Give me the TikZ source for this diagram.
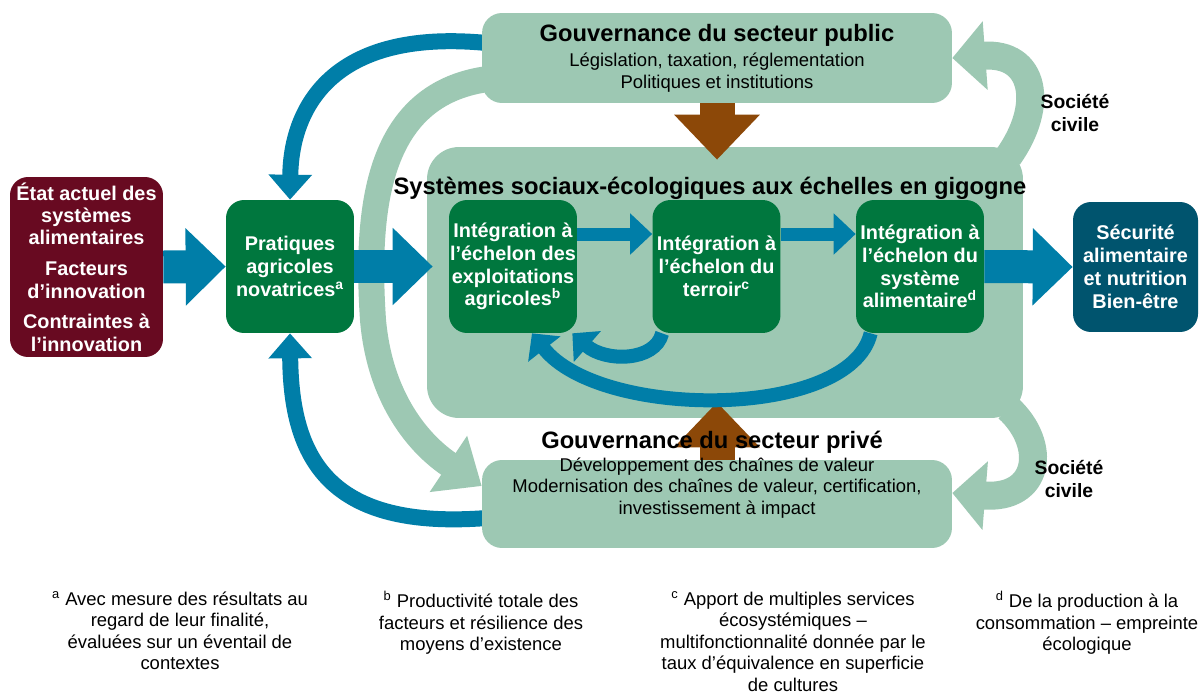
\documentclass[tikz,border=0pt]{standalone}
\usepackage{fontspec}
\setmainfont{Liberation Sans}
\usetikzlibrary{positioning, arrows.meta, calc, backgrounds}

\definecolor{bandgreen}{RGB}{157,200,179}
\definecolor{boxgreen}{RGB}{0,119,62}
\definecolor{flowblue}{RGB}{0,126,168}
\definecolor{wine}{RGB}{104,10,33}
\definecolor{deepteal}{RGB}{0,84,110}
\definecolor{rust}{RGB}{140,72,8}

\newcommand{\bxfont}{\fontsize{11.3}{13}\selectfont\bfseries}
\newcommand{\ttlfont}{\fontsize{13.5}{15}\selectfont\bfseries}
\newcommand{\txtfont}{\fontsize{10.5}{12.2}\selectfont}

\begin{document}
\begin{tikzpicture}[
  x=0.02cm, y=-0.02cm,
  innerbox/.style={fill=boxgreen, rounded corners=0.36cm, text=white, align=center, inner sep=0pt, font=\bxfont, minimum width=2.56cm, minimum height=2.66cm},
  govbox/.style={fill=bandgreen, rounded corners=0.4cm, minimum width=9.4cm, inner sep=0pt},
  blockarrow/.style={flowblue, line width=0.66cm, -{Triangle[length=0.8cm, width=1.5cm]}},
  steparrow/.style={flowblue, line width=0.26cm, -{Triangle[length=0.44cm, width=0.8cm]}},
  innerloop/.style={flowblue, line width=0.28cm, -{Triangle[length=0.4cm, width=0.8cm]}},
  looparrow/.style={flowblue, line width=0.32cm, -{Triangle[length=0.5cm, width=0.84cm]}},
  rustarrow/.style={rust, line width=0.7cm, -{Triangle[length=0.9cm, width=1.66cm]}},
  govband/.style={bandgreen, line width=0.52cm, -{Triangle[length=0.8cm, width=1.3cm]}},
  civilband/.style={bandgreen, line width=0.56cm, -{Triangle[length=0.66cm, width=1.34cm]}},
  civiltext/.style={font=\fontsize{11}{12.8}\selectfont\bfseries, align=center},
  notetext/.style={font=\txtfont, align=center, anchor=north, inner sep=0pt}
]
\useasboundingbox (0,0) rectangle (1200,693);

% governance frames and the nested systems frame
\node[govbox, minimum height=1.8cm, font=\txtfont, align=center] (gpub) at (717,58)
  {{\ttlfont Gouvernance du secteur public}\\[2.5pt]Législation, taxation, réglementation\\Politiques et institutions};
\node[govbox, minimum height=1.76cm] (gpriv) at (717,504) {};
\node[fill=bandgreen, rounded corners=0.64cm, minimum width=11.92cm, minimum height=5.42cm, inner sep=0pt] (ses) at (725,282.5) {};

% boxes
\node[innerbox, fill=wine, minimum width=3.06cm, minimum height=3.6cm, font=\fontsize{11.3}{12.75}\selectfont\bfseries] (etat) at (86.5,267)
  {État actuel des\\systèmes\\alimentaires\\[4.8pt]Facteurs\\d’innovation\\[4.8pt]Contraintes à\\l’innovation};
\node[innerbox] (prat) at (290,266.5) {Pratiques\\agricoles\\novatrices\textsuperscript{a}};
\node[innerbox] (int1) at (513,266.5) {Intégration à\\l’échelon des\\exploitations\\agricoles\textsuperscript{b}};
\node[innerbox] (int2) at (716.5,266.5) {Intégration à\\l’échelon du\\terroir\textsuperscript{c}};
\node[innerbox] (int3) at (920,266.5) {Intégration à\\l’échelon du\\système\\alimentaire\textsuperscript{d}};
\node[innerbox, fill=deepteal, minimum width=2.5cm, minimum height=2.6cm] (secu) at (1135.5,267) {Sécurité\\alimentaire\\et nutrition\\Bien-être};

% bands and loops behind the frames
\begin{scope}[on background layer]
  \fill[white] (0,0) rectangle (1200,693);
  \draw[govband] ([xshift=0.3cm,yshift=-0.4cm]gpub.west) .. controls (380,88) and (365,200) .. (373,320)
    .. controls (380,400) and (420,445) .. ([yshift=0.36cm]gpriv.west);
  \draw[civilband] ([xshift=-0.3cm,yshift=-0.2cm]ses.north east) .. controls (1045,105) and (1035,52) .. (gpub.east);
  \draw[civilband] ([xshift=-0.3cm,yshift=0.2cm]ses.south east) .. controls (1048,445) and (1040,500) .. ([yshift=0.22cm]gpriv.east);
  \draw[looparrow] ([xshift=0.1cm,yshift=0.3cm]gpub.west) .. controls (330,28) and (291,110) .. (prat.north);
  \draw[looparrow] ([xshift=0.1cm,yshift=-0.28cm]gpriv.west) .. controls (330,530) and (291,460) .. (prat.south);
\end{scope}

% governance pressure
\draw[rustarrow] (gpub.south) -- ($(gpub.south |- ses.north)+(0,13)$);
\draw[rustarrow] (gpriv.north) -- ($(gpriv.north |- ses.south)+(0,-16)$);

% titles
\node[font=\ttlfont] (gprivttl) at (712,442) {Gouvernance du secteur privé};
\node[font=\txtfont, align=center] (gprivtxt) at (717,488)
  {Développement des chaînes de valeur\\Modernisation des chaînes de valeur, certification,\\investissement à impact};
\node[font=\ttlfont] (sesttl) at (710,188) {Systèmes sociaux-écologiques aux échelles en gigogne};
\node[civiltext] (civtop) at (1075,113) {Société\\civile};
\node[civiltext] (civbot) at (1069,479) {Société\\civile};

% flows
\draw[blockarrow] (etat.east) -- (prat.west);
\draw[blockarrow, shorten >=0.32cm] (prat.east) -- (prat.east -| int1.west);
\draw[blockarrow] (int3.east) -- (secu.west);
\draw[steparrow] ([yshift=0.65cm]int1.east) -- ([yshift=0.65cm]int2.west);
\draw[steparrow] ([yshift=0.65cm]int2.east) -- ([yshift=0.65cm]int3.west);
\draw[innerloop] ([xshift=0.2cm]int2.south west) .. controls (655,362) and (605,362) .. ([xshift=-0.1cm]int1.south east);
\draw[innerloop] ([xshift=0.3cm]int3.south west) .. controls (850,420) and (600,420) .. ([xshift=0.38cm]int1.south);

% footnotes
\node[notetext] (fna) at (180,591) {\textsuperscript{a} Avec mesure des résultats au\\regard de leur finalité,\\évaluées sur un éventail de\\contextes};
\node[notetext] (fnb) at (481,591) {\textsuperscript{b} Productivité totale des\\facteurs et résilience des\\moyens d’existence};
\node[notetext] (fnc) at (793,591) {\textsuperscript{c} Apport de multiples services\\écosystémiques –\\multifonctionnalité donnée par le\\taux d’équivalence en superficie\\de cultures};
\node[notetext] (fnd) at (1087,591) {\textsuperscript{d} De la production à la\\consommation – empreinte\\écologique};

\end{tikzpicture}
\end{document}
